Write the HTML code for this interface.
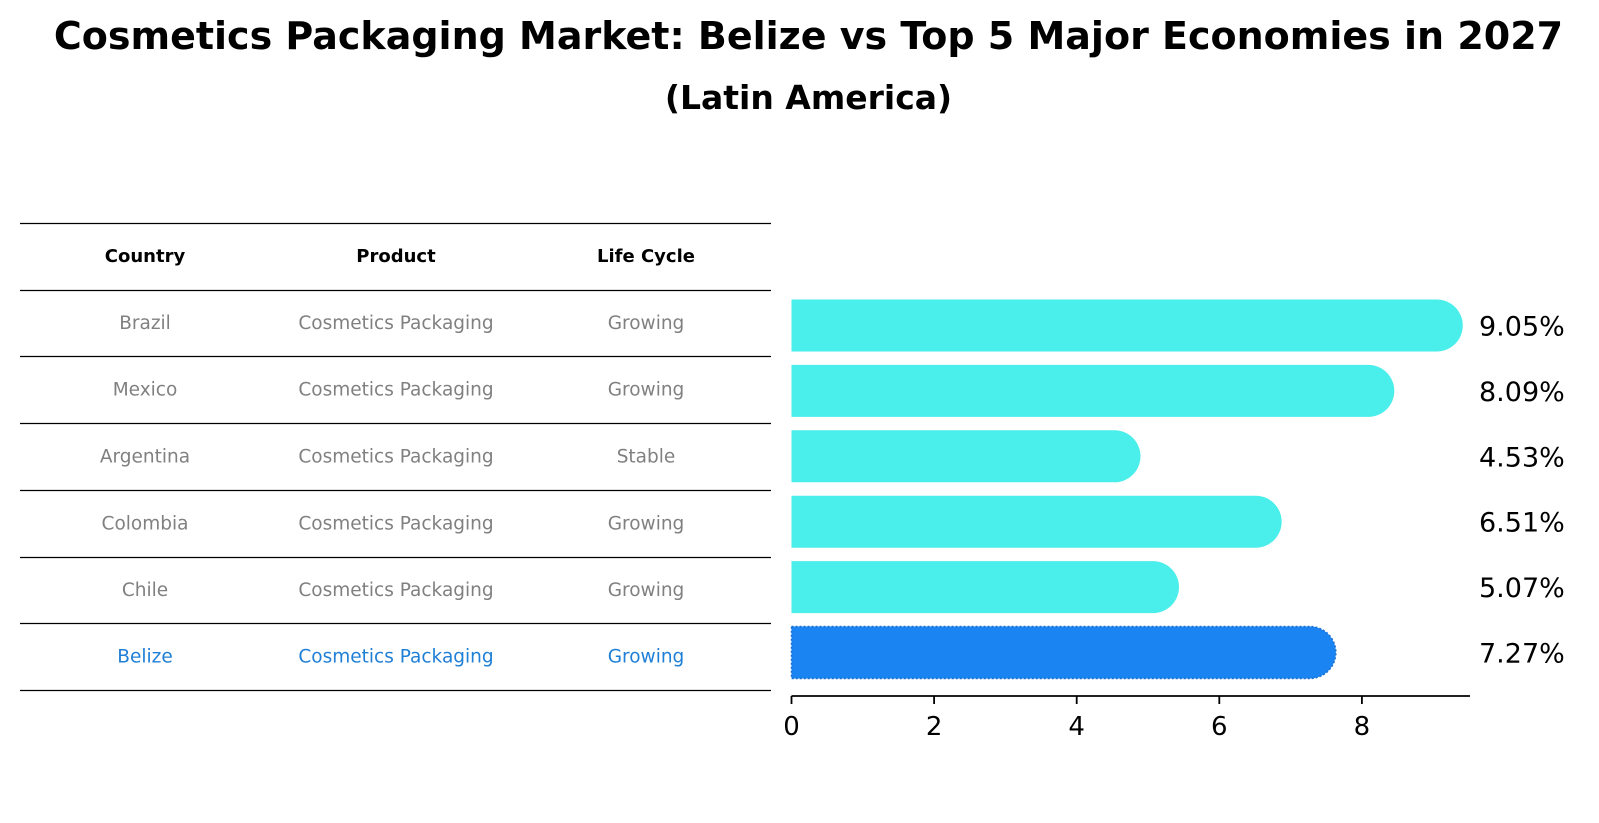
<!DOCTYPE html>
<html><head><meta charset="utf-8"><style>
body{margin:0;background:#fff;font-family:"DejaVu Sans","Liberation Sans",sans-serif}
#root{position:relative;width:1599px;height:823px;overflow:hidden}
.t{position:absolute;left:9px;width:1599px;text-align:center;font-weight:bold;color:#000;white-space:nowrap}
</style></head><body>
<div id="root">
<div class="t" style="top:14px;font-size:38px">Cosmetics Packaging Market: Belize vs Top 5 Major Economies in 2027</div>
<div class="t" style="top:78px;font-size:33px">(Latin America)</div>
<svg id="svg" width="1599" height="823" style="position:absolute;left:0;top:0"></svg>
</div>
<script>
const countries=["Brazil","Mexico","Argentina","Colombia","Chile","Belize"];
const products=["Cosmetics Packaging","Cosmetics Packaging","Cosmetics Packaging","Cosmetics Packaging","Cosmetics Packaging","Cosmetics Packaging"];
const lifecycle=["Growing","Growing","Stable","Growing","Growing","Growing"];
const values=[9.05,8.09,4.53,6.51,5.07,7.27];
const ticks=[0,2,4,6,8];
const NS="http://www.w3.org/2000/svg";
const svg=document.getElementById('svg');
function mk(tag,attrs,txt){const e=document.createElementNS(NS,tag);for(const k in attrs)e.setAttribute(k,attrs[k]);if(txt!==undefined)e.textContent=txt;svg.appendChild(e);return e;}
const x0=791.5,unit=71.3;
const xs=v=>x0+v*unit;
const rowY=i=>325.5+i*65.4;
const barH=52;
// table
const lineYs=[223,290,356,423,490,557,623,690];
lineYs.forEach((y,i)=>{const l=mk('line',{x1:20,x2:771,y1:y+0.5,y2:y+0.5,stroke:'#000','stroke-width':1.2});
});
const cx=[145,396,646];
["Country","Product","Life Cycle"].forEach((h,j)=>{const t=mk('text',{x:cx[j],y:262,'text-anchor':'middle','font-size':18,'font-weight':'bold',fill:'#000'},h);
});
countries.forEach((c,i)=>{
  const y=(lineYs[i+1]+lineYs[i+2])/2+6;
  const col=i===countries.length-1?'#1f7fd6':'#808080';
  [c,products[i],lifecycle[i]].forEach((v,j)=>{const t=mk('text',{x:cx[j],y:y,'text-anchor':'middle','font-size':18.5,fill:col},v);
  });
});
// bars
values.forEach((v,i)=>{
  const y=rowY(i)-barH/2,r=barH/2,xe=xs(v);
  const belize=i===values.length-1;
  const d=`M${x0},${y} H${xe} A${r},${r} 0 0 1 ${xe},${y+barH} H${x0} Z`;
  const p=mk('path',{d:d,fill:belize?'#1a84f2':'#4aeeea',stroke:belize?'#1a6fd0':'none','stroke-width':belize?1.5:0,'stroke-dasharray':belize?'2,2':''});
  
  const t=mk('text',{x:1479,y:rowY(i)+10,'font-size':27,fill:'#000'},v.toFixed(2)+'%');
  
});
// axis
const ax=mk('line',{x1:x0,x2:1470,y1:696,y2:696,stroke:'#000','stroke-width':1.8});

ticks.forEach(v=>{const l=mk('line',{x1:xs(v),x2:xs(v),y1:696,y2:704,stroke:'#000','stroke-width':1.8});

const t=mk('text',{x:xs(v),y:735,'text-anchor':'middle','font-size':26,fill:'#000'},String(v));
});
</script>
</body></html>
